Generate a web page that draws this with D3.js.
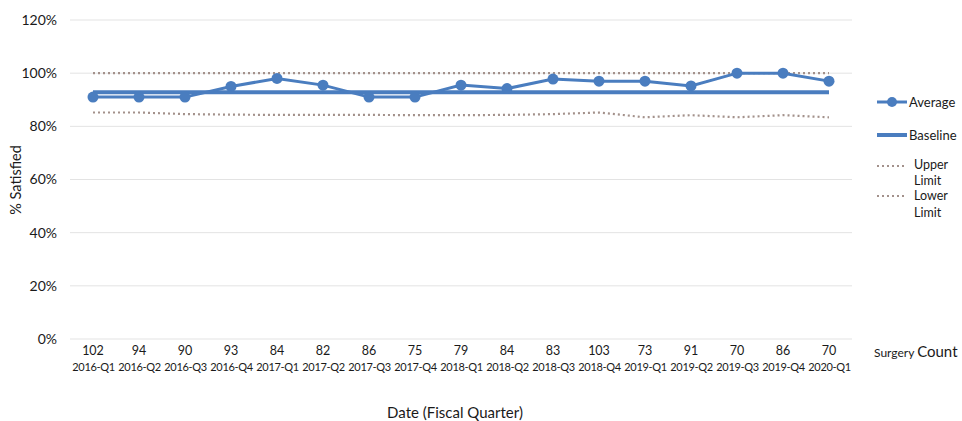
<!DOCTYPE html>
<html><head><meta charset="utf-8">
<script src="https://cdn.jsdelivr.net/npm/d3@7"></script>
<style>
html,body{margin:0;padding:0;background:#fff;overflow:hidden;}
text{font-family:Lato,"Open Sans",sans-serif;fill:#1a1a1a;}
</style></head>
<body><svg id="c" width="962" height="421" style="display:block"></svg>
<script>
const quarters = ["2016-Q1","2016-Q2","2016-Q3","2016-Q4","2017-Q1","2017-Q2","2017-Q3","2017-Q4","2018-Q1","2018-Q2","2018-Q3","2018-Q4","2019-Q1","2019-Q2","2019-Q3","2019-Q4","2020-Q1"];
const counts = [102,94,90,93,84,82,86,75,79,84,83,103,73,91,70,86,70];
const average = [91,91,91,95,98,95.5,91,91,95.5,94.2,97.8,97,97,95.2,100,100,97];
const baseline = [92.8,92.8,92.8,92.8,92.8,92.8,92.8,92.8,92.8,92.8,92.8,92.8,92.8,92.8,92.8,92.8,92.8];
const upperLimit = [100,100,100,100,100,100,100,100,100,100,100,100,100,100,100,100,100];
const lowerLimit = [85.2,85.2,84.6,84.4,84.3,84.3,84.3,84.2,84.2,84.3,84.6,85.2,83.4,84.2,83.4,84.2,83.4];
const yTicks = [0,20,40,60,80,100,120];

(function(){
const svg = d3.select("#c");
const pLeft = 70, pRight = 852, pTop = 20, pBottom = 339;
const x = d3.scalePoint().domain(quarters).range([pLeft, pRight]).padding(0.5);
const y = d3.scaleLinear().domain([0,120]).range([pBottom, pTop]);
const blue = "#4a7dbf", dotc = "#a3918b";
const F = "Lato,'Open Sans',sans-serif";

svg.append("g").selectAll("line").data(yTicks).join("line")
  .attr("x1", pLeft).attr("x2", pRight)
  .attr("y1", d=>y(d)).attr("y2", d=>y(d))
  .attr("stroke", "#e3e3e3").attr("stroke-width", 1);

const yAxis = d3.axisLeft(y).tickValues(yTicks).tickFormat(d=>d+"%").tickSize(0).tickPadding(13);
const ya = svg.append("g").attr("transform", `translate(${pLeft},0)`).call(yAxis);
ya.select(".domain").remove();
ya.selectAll("text").style("font-size","14px").style("font-family",F).attr("fill","#1a1a1a");

svg.append("text").attr("transform","translate(21,180) rotate(-90)")
  .attr("text-anchor","middle").style("font-size","14.5px").text("% Satisfied");

const xAxis = d3.axisBottom(x).tickSize(0).tickPadding(0);
const xa = svg.append("g").attr("transform", `translate(0,${pBottom+24})`).call(xAxis);
xa.select(".domain").remove();
xa.selectAll("text").style("font-size","11px").style("letter-spacing","-0.35px").style("font-family",F).attr("fill","#1a1a1a");

svg.append("g").selectAll("text").data(counts).join("text")
  .attr("x",(d,i)=>x(quarters[i])).attr("y", pBottom+16)
  .attr("text-anchor","middle").style("font-size","12.5px").text(d=>d);

svg.append("text").attr("x",874).attr("y",357).style("font-size","12px")
  .text("Surgery ").append("tspan").style("font-size","15px").text("Count");

svg.append("text").attr("x",455).attr("y",418).attr("text-anchor","middle")
  .style("font-size","15px").text("Date (Fiscal Quarter)");

const line = d3.line().x((d,i)=>x(quarters[i])).y(d=>y(d));

svg.append("path").datum(upperLimit).attr("d",line).attr("fill","none")
  .attr("stroke",dotc).attr("stroke-width",2.2).attr("stroke-dasharray","2,3");
svg.append("path").datum(lowerLimit).attr("d",line).attr("fill","none")
  .attr("stroke",dotc).attr("stroke-width",2.2).attr("stroke-dasharray","2,3");
svg.append("path").datum(baseline).attr("d",line).attr("fill","none")
  .attr("stroke",blue).attr("stroke-width",4);
svg.append("path").datum(average).attr("d",line).attr("fill","none")
  .attr("stroke",blue).attr("stroke-width",3);
svg.append("g").selectAll("circle").data(average).join("circle")
  .attr("cx",(d,i)=>x(quarters[i])).attr("cy",d=>y(d)).attr("r",5.5).attr("fill",blue);

const lg = svg.append("g");
const lx1 = 877, lx2 = 907;
lg.append("line").attr("x1",lx1).attr("x2",lx2).attr("y1",102).attr("y2",102).attr("stroke",blue).attr("stroke-width",3);
lg.append("circle").attr("cx",(lx1+lx2)/2).attr("cy",102).attr("r",5).attr("fill",blue);
lg.append("text").attr("x",909).attr("y",107).style("font-size","13px").text("Average");
lg.append("line").attr("x1",lx1).attr("x2",lx2).attr("y1",135).attr("y2",135).attr("stroke",blue).attr("stroke-width",4);
lg.append("text").attr("x",909).attr("y",140).style("font-size","13px").text("Baseline");
lg.append("line").attr("x1",lx1).attr("x2",lx2).attr("y1",166).attr("y2",166).attr("stroke",dotc).attr("stroke-width",2).attr("stroke-dasharray","2,3");
lg.append("text").attr("x",914).attr("y",169).style("font-size","12.5px").text("Upper");
lg.append("text").attr("x",914).attr("y",185).style("font-size","12.5px").text("Limit");
lg.append("line").attr("x1",lx1).attr("x2",lx2).attr("y1",196).attr("y2",196).attr("stroke",dotc).attr("stroke-width",2).attr("stroke-dasharray","2,3");
lg.append("text").attr("x",914).attr("y",200).style("font-size","12.5px").text("Lower");
lg.append("text").attr("x",914).attr("y",217).style("font-size","12.5px").text("Limit");
})();
</script></body></html>
